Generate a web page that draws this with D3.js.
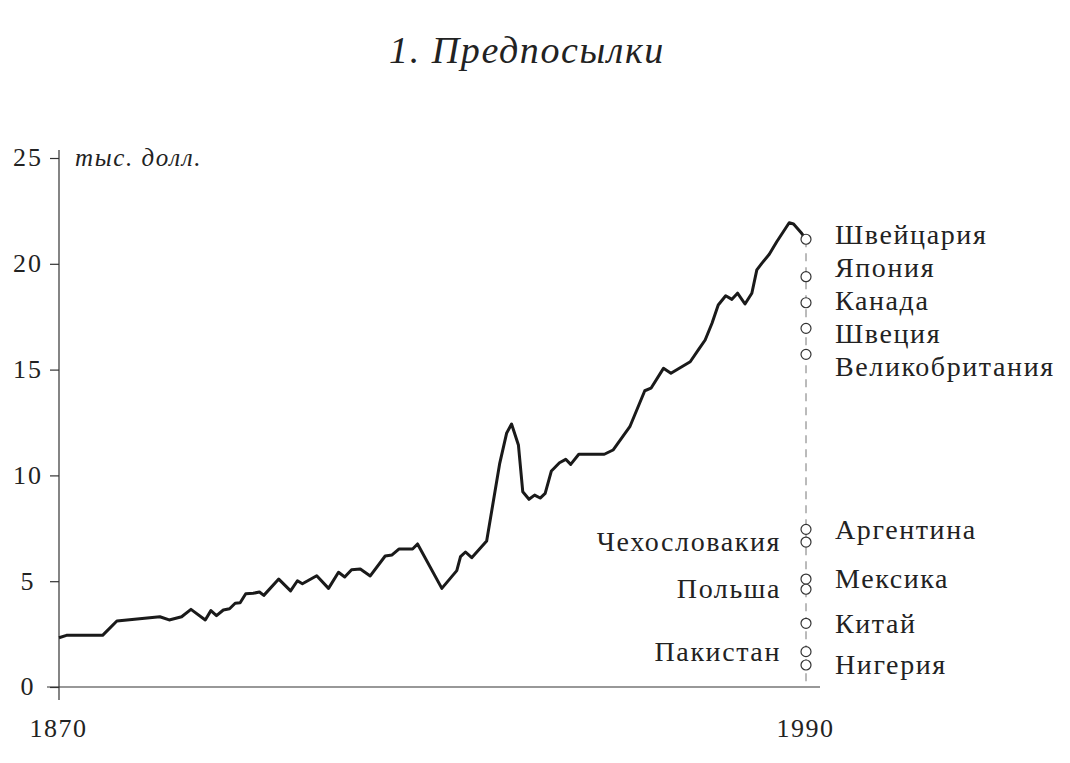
<!DOCTYPE html>
<html><head><meta charset="utf-8">
<script src="https://cdn.jsdelivr.net/npm/d3@7"></script>
<style>
html,body{margin:0;padding:0;background:#fff;}
svg{display:block;}
text{font-family:"Liberation Serif","Times New Roman",serif;fill:#222;}
</style></head>
<body>
<svg id="chart" width="1070" height="763"></svg>
<script>
// ---- data ----
const years = [1870,1871.2,1877.0,1879.3,1886.2,1887.7,1889.7,1891.2,1893.5,1894.4,1895.3,1896.4,1897.4,1898.3,1899.1,1900.0,1901.2,1902.2,1902.9,1905.3,1907.2,1908.3,1909.1,1911.4,1913.3,1914.9,1915.9,1917.0,1918.4,1920.0,1922.4,1923.5,1924.6,1926.8,1927.6,1931.5,1933.9,1934.5,1935.3,1936.3,1938.7,1940.8,1941.9,1942.7,1943.8,1944.5,1945.5,1946.4,1947.3,1948.1,1949.1,1950.4,1951.4,1952.2,1953.5,1957.6,1959.0,1961.7,1964.1,1965.1,1967.1,1968.3,1971.4,1972.7,1973.8,1974.9,1975.9,1977.1,1978.1,1979.0,1980.2,1981.3,1982.1,1982.9,1984.1,1985.3,1987.3,1988.0,1989.3,1990];
const values = [2.33,2.44,2.44,3.12,3.32,3.17,3.32,3.67,3.17,3.61,3.37,3.64,3.70,3.96,3.98,4.41,4.43,4.49,4.33,5.10,4.54,5.02,4.88,5.26,4.66,5.42,5.20,5.54,5.58,5.25,6.19,6.24,6.52,6.52,6.76,4.66,5.50,6.16,6.38,6.11,6.90,10.57,11.99,12.43,11.44,9.23,8.87,9.07,8.93,9.15,10.21,10.60,10.76,10.52,11.00,11.00,11.20,12.30,14.00,14.12,15.06,14.83,15.37,15.93,16.40,17.19,18.05,18.49,18.32,18.61,18.10,18.61,19.71,20.02,20.45,21.04,21.94,21.88,21.44,21.16];

const countries = ["Швейцария","Япония","Канада","Швеция","Великобритания","Аргентина","Чехословакия","Мексика","Польша","Китай","Пакистан","Нигерия"];
const values1990 = [21.16,19.39,18.16,16.95,15.72,7.45,6.85,5.10,4.62,3.01,1.67,1.04];
const labelSide = ["right","right","right","right","right","right","left","right","left","right","left","right"];

const yTicks = [0,5,10,15,20,25];
const xTicks = [1870,1990];
const title = "1. Предпосылки";
const unitLabel = "тыс. долл.";

// ---- drawing ----
const svg = d3.select("#chart");
const x = d3.scaleLinear().domain([1870,1990]).range([59,806]);
const y = d3.scaleLinear().domain([0,25]).range([687,158]);

svg.append("text").attr("x",527).attr("y",63).attr("text-anchor","middle")
  .style("font-style","italic").style("font-size","38px").style("letter-spacing","1.6px").text(title);

// axes lines
svg.append("line").attr("x1",x(1870)).attr("x2",x(1870)).attr("y1",y(25)-8).attr("y2",y(0)+13)
  .attr("stroke","#333").attr("stroke-width",1.2);
svg.append("line").attr("x1",x(1870)-12).attr("x2",x(1990)+14).attr("y1",y(0)).attr("y2",y(0))
  .attr("stroke","#333").attr("stroke-width",1.2);

const yAxis = d3.axisLeft(y).tickValues(yTicks).tickSize(9).tickPadding(0).tickFormat(d3.format("d"));
const gy = svg.append("g").attr("transform",`translate(${x(1870)},0)`).call(yAxis);
gy.select(".domain").remove();
gy.selectAll(".tick line").attr("stroke","#333").attr("stroke-width",1.2);
gy.selectAll(".tick text").attr("x",-31).attr("text-anchor","middle").attr("dy","0.3em")
  .style("font-size","26px").style("letter-spacing","2px").style("font-family","'Liberation Serif',serif").attr("fill","#222");

const xAxis = d3.axisBottom(x).tickValues(xTicks).tickSize(0).tickPadding(0).tickFormat(d3.format("d"));
const gx = svg.append("g").attr("transform",`translate(0,${y(0)})`).call(xAxis);
gx.select(".domain").remove();
gx.selectAll(".tick text").attr("y",50).attr("dy",0).attr("dx",-1)
  .style("font-size","26px").style("letter-spacing","1.5px").style("font-family","'Liberation Serif',serif").attr("fill","#222");

svg.append("text").attr("x",75).attr("y",y(25)+8).style("font-style","italic").style("font-size","25px")
  .style("letter-spacing","1.6px").text(unitLabel);

// dashed 1990 line
svg.append("line").attr("x1",x(1990)).attr("x2",x(1990)).attr("y1",y(d3.max(values1990))).attr("y2",y(0))
  .attr("stroke","#777").attr("stroke-width",1).attr("stroke-dasharray","8,6");

// main line
const pts = years.map((d,i)=>[d,values[i]]);
svg.append("path").datum(pts)
  .attr("d",d3.line().x(d=>x(d[0])).y(d=>y(d[1])))
  .attr("fill","none").attr("stroke","#1a1a1a").attr("stroke-width",3).attr("stroke-linejoin","round");

// circles
countries.forEach((c,i)=>{
  svg.append("circle").attr("cx",x(1990)).attr("cy",y(values1990[i])).attr("r",5)
    .attr("fill","#fff").attr("stroke","#333").attr("stroke-width",1.2);
});

// label dodge per side
const spacing = 33;
function dodge(idx){
  const items = idx.map(i=>({i, t:y(values1990[i])})).sort((a,b)=>a.t-b.t);
  let clusters = items.map(it=>({items:[it]}));
  function pos(cl){return d3.mean(cl.items,(d,k)=>d.t - k*spacing);}
  let changed=true;
  while(changed){
    changed=false;
    for(let k=0;k<clusters.length-1;k++){
      const a=clusters[k], b=clusters[k+1];
      const aEnd = pos(a)+(a.items.length-1)*spacing;
      if(pos(b)-aEnd < spacing){
        clusters.splice(k,2,{items:a.items.concat(b.items)});
        changed=true;break;
      }
    }
  }
  const out={};
  clusters.forEach(cl=>{const s=pos(cl);cl.items.forEach((it,k)=>out[it.i]=s+k*spacing);});
  return out;
}
const rightIdx = countries.map((c,i)=>i).filter(i=>labelSide[i]==="right");
const leftIdx = countries.map((c,i)=>i).filter(i=>labelSide[i]==="left");
const ly = Object.assign({}, dodge(rightIdx), dodge(leftIdx));

countries.forEach((c,i)=>{
  const right = labelSide[i]==="right";
  svg.append("text").attr("x", right? x(1990)+29 : x(1990)-25)
    .attr("y", ly[i]).attr("dy","0.33em")
    .attr("text-anchor", right? "start":"end")
    .style("font-size","28px").style("letter-spacing","1.6px").text(c);
});
</script>
</body></html>
